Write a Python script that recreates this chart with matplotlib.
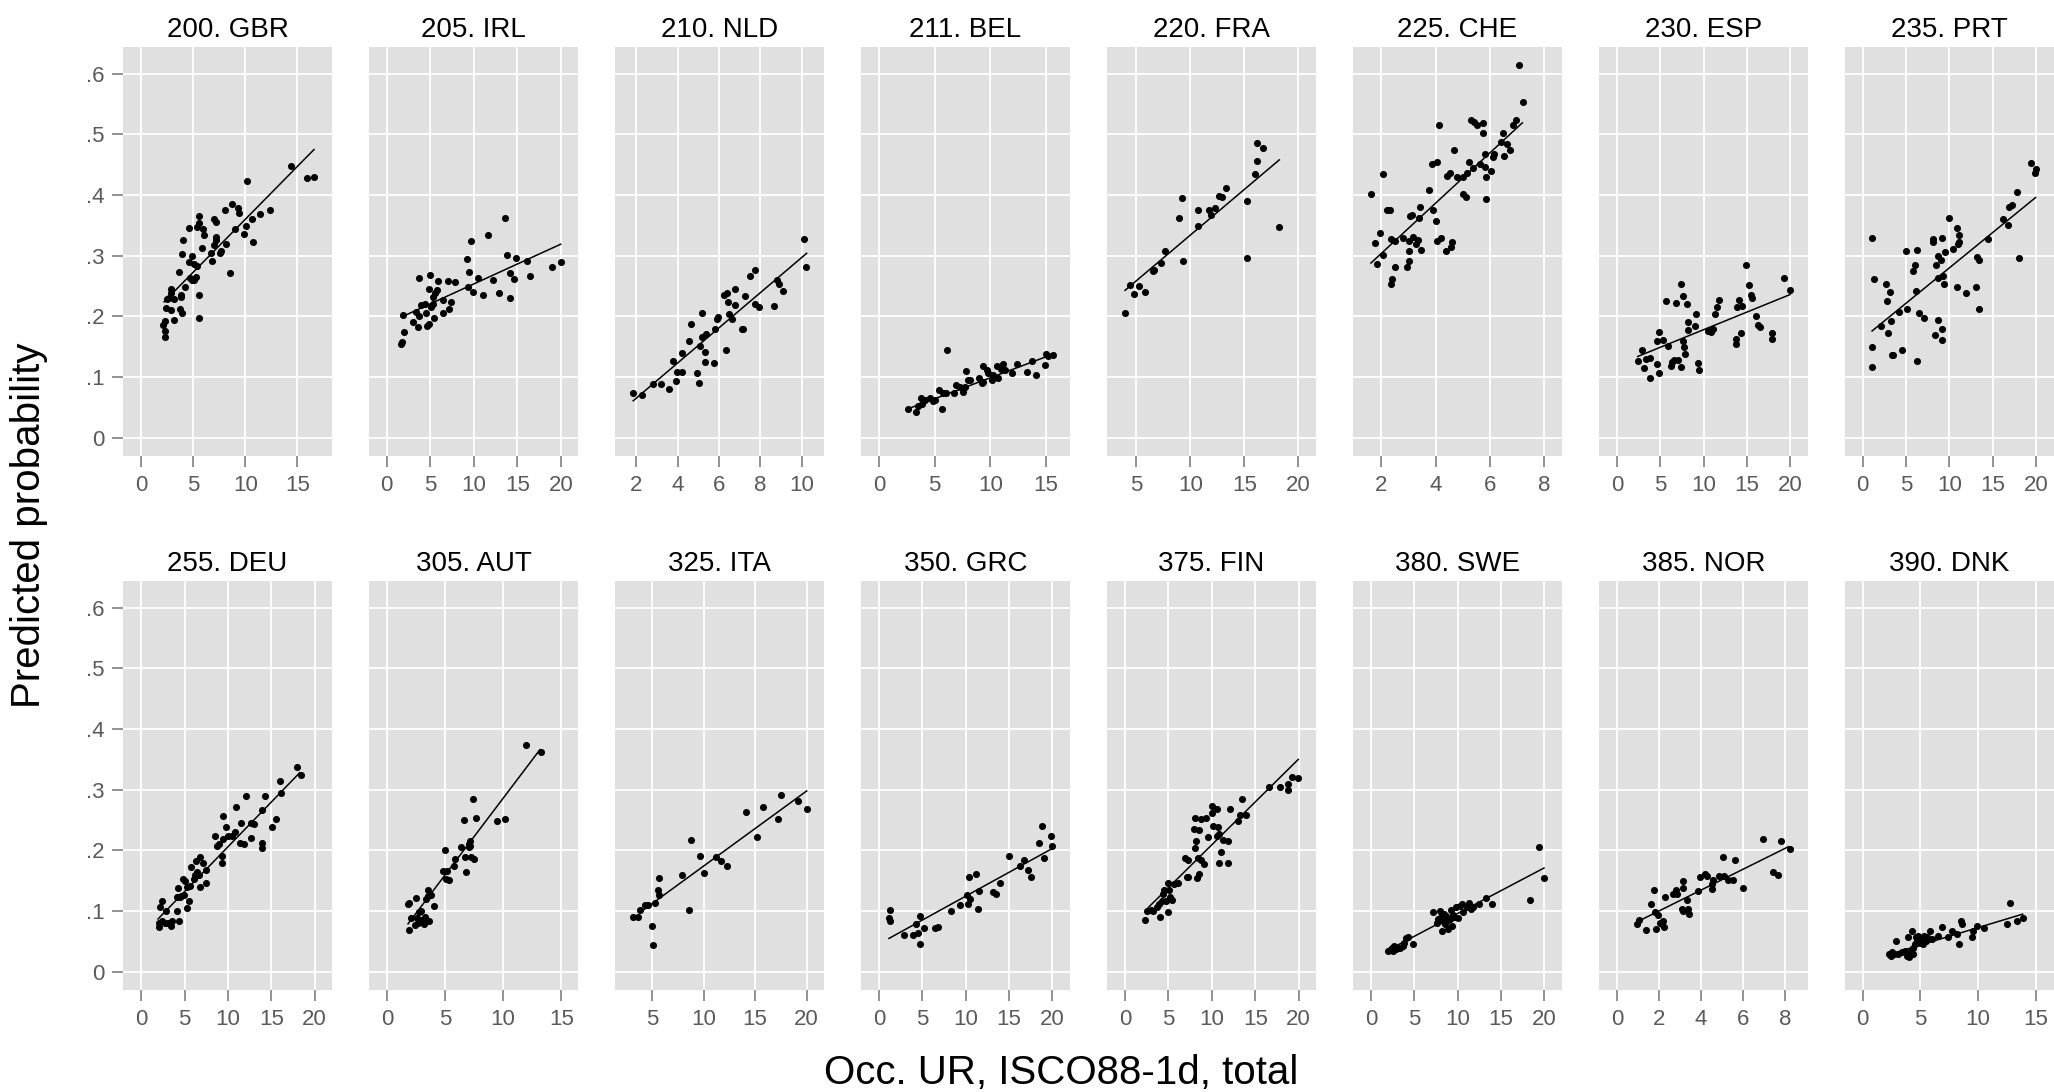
import matplotlib.pyplot as plt

plt.rcParams['font.family'] = ['Liberation Sans', 'DejaVu Sans']

# predicted probability vs occupational unemployment rate, one list of (x, y) per country
gbr = [(2.08, .186), (2.28, .192), (2.28, .176), (2.28, .166), (2.34, .214), (2.5, .229), (2.66, .23),
       (2.85, .245), (2.85, .238), (2.9, .21), (3.1, .194), (3.17, .228), (3.6, .274), (3.69, .212),
       (3.8, .236), (3.85, .232), (3.94, .206), (3.97, .326), (3.9, .303), (4.23, .249), (4.58, .345),
       (4.58, .29), (4.65, .264), (4.84, .3), (4.87, .26), (5.06, .26), (5.1, .287), (5.26, .265),
       (5.35, .283), (5.54, .235), (5.54, .198), (5.5, .365), (5.58, .354), (5.38, .348), (5.8, .312),
       (5.96, .344), (6.0, .334), (6.83, .292), (6.73, .305), (6.96, .36), (7.15, .355), (7.15, .331),
       (6.99, .318), (7.2, .326), (7.6, .304), (7.69, .308), (8.04, .375), (8.17, .319), (8.5, .271),
       (8.75, .386), (8.97, .344), (9.3, .378), (9.36, .371), (9.84, .336), (10.1, .349), (10.13, .424),
       (10.67, .36), (10.74, .322), (11.4, .368), (12.4, .375), (14.36, .448), (15.9, .428), (16.63, .429)]
irl = [(1.69, .154), (1.76, .158), (1.95, .174), (1.88, .202), (3.03, .191), (3.41, .208), (3.68, .201),
       (3.6, .183), (3.72, .263), (3.98, .219), (4.37, .221), (4.48, .206), (4.67, .184), (4.87, .187),
       (4.83, .246), (5.02, .269), (5.13, .216), (5.33, .232), (5.44, .197), (5.52, .238), (5.79, .243),
       (5.9, .259), (5.33, .221), (6.47, .227), (6.47, .205), (7.05, .259), (7.16, .213), (7.43, .224),
       (7.85, .256), (9.16, .295), (9.35, .248), (9.43, .273), (9.73, .324), (9.85, .24), (10.42, .264),
       (11.07, .235), (11.65, .334), (12.15, .26), (12.87, .239), (13.56, .362), (13.75, .302),
       (14.14, .23), (14.14, .271), (14.6, .261), (14.83, .296), (16.05, .291), (16.44, .266),
       (18.97, .281), (19.96, .29)]
nld = [(1.82, .074), (2.27, .070), (2.82, .088), (3.19, .088), (3.58, .081), (3.76, .126), (3.9, .093),
       (3.98, .108), (4.19, .108), (4.19, .139), (4.56, .16), (4.63, .188), (4.94, .106), (5.02, .091),
       (5.08, .152), (5.16, .205), (5.19, .166), (5.34, .141), (5.34, .125), (5.39, .171), (5.74, .123),
       (5.79, .18), (5.89, .196), (5.95, .199), (6.23, .235), (6.39, .238), (6.44, .223), (6.34, .145),
       (6.5, .204), (6.63, .196), (6.76, .219), (6.77, .245), (7.1, .18), (7.15, .179), (7.26, .233),
       (7.5, .266), (7.73, .277), (7.73, .221), (7.95, .215), (8.68, .217), (8.79, .26), (8.9, .254),
       (9.08, .242), (10.11, .327), (10.23, .281)]
bel = [(2.63, .047), (3.32, .042), (3.53, .053), (3.77, .066), (3.89, .055), (4.13, .062), (4.58, .066),
       (4.82, .06), (5.03, .062), (5.39, .079), (5.69, .047), (5.78, .073), (6.02, .074), (6.08, .145),
       (6.77, .074), (6.92, .087), (7.28, .084), (7.51, .076), (7.72, .084), (7.78, .11), (7.96, .095),
       (8.17, .096), (9.01, .098), (9.22, .091), (9.37, .092), (9.37, .119), (9.67, .112), (9.82, .106),
       (10.12, .095), (10.27, .103), (10.57, .119), (10.72, .099), (10.93, .113), (11.17, .121),
       (11.32, .112), (11.92, .107), (12.37, .121), (13.32, .108), (13.71, .127), (14.1, .104),
       (14.91, .12), (14.97, .138), (15.21, .134), (15.6, .136)]
fra = [(3.95, .206), (4.41, .252), (4.81, .237), (5.22, .25), (5.8, .241), (6.57, .275), (6.64, .276),
       (7.25, .288), (7.69, .308), (8.98, .363), (9.2, .395), (9.35, .291), (10.71, .349), (10.74, .375),
       (11.76, .376), (11.91, .367), (12.31, .379), (12.69, .399), (12.96, .397), (13.3, .411),
       (15.28, .391), (15.28, .297), (15.96, .434), (16.14, .456), (16.14, .486), (16.73, .477),
       (18.24, .348)]
che = [(1.61, .402), (1.78, .321), (1.83, .286), (1.96, .337), (2.06, .302), (2.07, .434), (2.2, .376),
       (2.31, .376), (2.37, .327), (2.38, .262), (2.37, .253), (2.49, .325), (2.52, .282), (2.8, .33),
       (2.93, .282), (3.02, .324), (3.03, .291), (3.03, .308), (3.06, .365), (3.12, .367), (3.18, .331),
       (3.28, .319), (3.36, .326), (3.39, .363), (3.42, .38), (3.45, .31), (3.77, .409), (3.89, .376),
       (3.85, .452), (4.01, .357), (4.04, .455), (4.06, .325), (4.13, .516), (4.18, .329), (4.38, .308),
       (4.42, .432), (4.53, .436), (4.55, .314), (4.59, .322), (4.67, .474), (4.77, .43), (4.99, .43),
       (5.01, .402), (5.1, .396), (5.17, .437), (5.23, .454), (5.3, .523), (5.39, .444), (5.41, .521),
       (5.53, .516), (5.63, .452), (5.73, .518), (5.75, .503), (5.82, .468), (5.83, .447), (5.86, .43),
       (5.86, .393), (6.02, .44), (6.1, .462), (6.15, .467), (6.39, .488), (6.49, .503), (6.52, .464),
       (6.61, .484), (6.74, .474), (6.86, .515), (6.96, .523), (7.07, .614), (7.2, .554)]
esp = [(2.47, .127), (2.85, .145), (3.12, .115), (3.35, .13), (3.82, .132), (3.78, .099), (4.66, .121),
       (4.66, .159), (4.86, .107), (4.86, .175), (5.28, .161), (5.63, .225), (5.93, .151), (6.2, .118),
       (6.36, .125), (6.59, .128), (6.82, .222), (7.09, .129), (7.36, .116), (7.44, .253), (7.63, .233),
       (7.67, .16), (7.75, .15), (7.86, .138), (8.05, .22), (8.17, .177), (8.25, .19), (9.06, .184),
       (9.17, .204), (9.33, .124), (9.48, .112), (10.48, .176), (10.87, .175), (11.06, .179),
       (11.29, .204), (11.6, .215), (11.79, .227), (13.72, .163), (13.76, .154), (13.91, .215),
       (14.14, .227), (14.3, .173), (14.49, .218), (14.95, .284), (15.26, .252), (15.49, .236),
       (15.61, .231), (16.03, .2), (16.34, .186), (16.53, .182), (17.96, .172), (17.96, .162),
       (19.35, .264), (20.0, .243)]
prt = [(1.12, .33), (1.08, .15), (1.12, .116), (1.35, .262), (2.12, .185), (2.73, .254), (2.85, .226),
       (2.96, .172), (3.15, .24), (3.27, .192), (3.35, .136), (3.54, .136), (4.19, .208), (4.58, .145),
       (4.96, .308), (5.15, .213), (5.85, .275), (6.04, .284), (6.15, .242), (6.27, .31), (6.23, .127),
       (6.5, .205), (7.08, .197), (8.08, .327), (8.15, .322), (8.38, .17), (8.46, .284), (8.73, .299),
       (8.73, .194), (8.73, .264), (9.0, .293), (9.12, .33), (9.12, .161), (9.12, .18), (9.31, .266),
       (9.42, .254), (9.5, .307), (9.96, .362), (10.38, .311), (10.85, .346), (10.85, .249),
       (10.96, .319), (11.12, .334), (11.15, .322), (11.92, .238), (13.08, .249), (13.23, .298),
       (13.38, .293), (13.46, .213), (14.42, .327), (16.15, .361), (16.73, .35), (16.92, .381),
       (17.27, .384), (17.85, .405), (18.04, .297), (19.42, .453), (19.88, .437), (19.96, .443)]
deu = [(2.04, .074), (2.04, .081), (2.12, .106), (2.35, .084), (2.42, .116), (2.73, .081), (2.81, .101),
       (3.08, .081), (3.46, .076), (3.58, .083), (4.15, .101), (4.12, .123), (4.19, .138), (4.31, .083),
       (4.42, .123), (4.62, .125), (4.81, .153), (4.88, .127), (5.0, .149), (5.27, .139), (5.31, .105),
       (5.5, .116), (5.58, .141), (5.69, .172), (6.08, .153), (6.19, .16), (6.35, .183), (6.46, .164),
       (6.65, .16), (6.73, .189), (6.81, .14), (7.12, .18), (7.42, .147), (7.5, .167), (8.5, .224),
       (8.73, .208), (8.96, .21), (9.27, .19), (9.35, .18), (9.38, .257), (9.42, .219), (9.73, .239),
       (10.04, .224), (10.5, .224), (10.77, .23), (10.96, .271), (11.35, .213), (11.5, .245),
       (11.81, .211), (12.12, .289), (12.62, .245), (12.62, .22), (13.0, .244), (13.92, .266),
       (13.96, .212), (13.92, .204), (14.27, .289), (15.12, .239), (15.5, .252), (16.08, .294),
       (16.0, .314), (17.96, .337), (18.38, .325)]
aut = [(1.84, .112), (1.93, .114), (1.87, .069), (2.1, .089), (2.39, .077), (2.53, .121), (2.56, .089),
       (2.67, .08), (2.76, .098), (2.87, .085), (2.93, .101), (3.05, .083), (3.16, .079), (3.25, .09),
       (3.39, .12), (3.53, .125), (3.56, .134), (3.62, .084), (3.82, .127), (4.05, .108), (4.83, .166),
       (5.03, .201), (5.11, .153), (5.2, .166), (5.32, .152), (5.75, .174), (5.86, .186), (6.38, .205),
       (6.61, .25), (6.75, .189), (6.84, .164), (7.04, .206), (7.07, .211), (7.18, .216), (7.18, .208),
       (7.27, .189), (7.47, .186), (7.44, .285), (7.64, .253), (9.51, .249), (10.14, .251),
       (11.95, .374), (13.22, .363)]
ita = [(3.13, .091), (3.61, .09), (3.84, .102), (4.32, .11), (4.64, .11), (5.03, .076), (5.13, .044),
       (5.32, .114), (5.61, .135), (5.71, .154), (5.71, .127), (7.91, .16), (8.59, .102), (8.78, .217),
       (9.69, .191), (10.04, .163), (11.17, .189), (11.66, .182), (12.24, .175), (14.08, .263),
       (15.15, .222), (15.8, .271), (17.25, .251), (17.48, .292), (19.13, .282), (20.0, .268)]
grc = [(1.15, .088), (1.27, .102), (1.31, .083), (2.85, .06), (3.88, .06), (4.23, .078), (4.46, .064),
       (4.73, .092), (4.77, .046), (5.23, .072), (6.46, .072), (6.85, .074), (8.27, .101), (9.38, .11),
       (10.12, .127), (10.23, .112), (10.38, .156), (10.5, .12), (11.19, .161), (11.46, .104),
       (11.58, .133), (13.12, .131), (13.5, .128), (13.96, .146), (14.96, .191), (16.27, .175),
       (16.77, .184), (17.23, .168), (17.5, .157), (18.46, .212), (18.77, .241), (19.04, .187),
       (19.81, .224), (20.0, .207)]
fin = [(2.34, .086), (2.5, .1), (2.99, .102), (3.26, .101), (3.72, .107), (3.92, .112), (4.03, .091),
       (4.22, .116), (4.41, .128), (4.53, .134), (4.72, .117), (4.91, .099), (5.11, .134), (5.18, .123),
       (5.37, .118), (4.91, .146), (5.68, .145), (6.14, .147), (7.1, .156), (7.29, .156), (6.95, .187),
       (7.29, .184), (8.25, .154), (8.52, .161), (8.44, .187), (8.71, .185), (9.1, .177), (8.06, .204),
       (8.18, .216), (7.98, .235), (8.56, .234), (8.06, .253), (8.71, .252), (9.33, .253), (9.6, .222),
       (10.02, .274), (10.02, .262), (10.17, .24), (10.63, .268), (10.75, .238), (10.86, .227),
       (10.63, .224), (11.09, .197), (10.86, .18), (11.25, .217), (11.82, .215), (11.82, .179),
       (12.09, .268), (13.01, .249), (13.24, .259), (13.44, .285), (13.93, .259), (16.58, .304),
       (17.89, .304), (18.81, .31), (18.73, .299), (19.19, .321), (19.96, .32)]
swe = [(1.92, .034), (2.19, .036), (2.38, .04), (2.58, .034), (2.69, .043), (2.88, .037), (3.15, .04),
       (3.35, .039), (3.65, .043), (3.81, .047), (4.04, .055), (4.31, .057), (4.81, .046), (7.12, .098),
       (7.58, .081), (7.77, .087), (7.96, .101), (8.04, .09), (8.15, .068), (8.27, .084), (8.42, .096),
       (8.54, .079), (8.65, .092), (8.73, .084), (8.92, .07), (9.12, .087), (9.19, .102), (9.31, .076),
       (9.42, .094), (9.58, .09), (9.81, .107), (10.0, .089), (10.27, .109), (10.46, .112),
       (10.65, .098), (11.04, .106), (11.35, .114), (11.5, .103), (11.81, .106), (12.5, .112),
       (13.23, .122), (14.0, .111), (18.35, .119), (19.42, .206), (19.96, .155)]
nor = [(.94, .078), (1.05, .086), (1.38, .069), (1.63, .112), (1.78, .135), (1.81, .098), (1.84, .07),
       (1.97, .094), (2.05, .081), (2.13, .079), (2.17, .083), (2.25, .073), (2.3, .124), (2.68, .128),
       (2.81, .134), (2.87, .128), (3.08, .103), (3.13, .138), (3.16, .149), (3.16, .101), (3.32, .118),
       (3.4, .103), (3.44, .095), (3.87, .133), (3.95, .157), (4.19, .161), (4.27, .158), (4.51, .136),
       (4.51, .145), (4.59, .151), (4.87, .158), (5.06, .189), (5.1, .158), (5.3, .151), (5.51, .151),
       (5.62, .184), (6.02, .138), (6.94, .219), (7.44, .165), (7.68, .16), (7.81, .215), (8.24, .202)]
dnk = [(2.31, .029), (2.43, .026), (2.54, .032), (2.72, .03), (2.89, .051), (3.09, .029), (3.38, .032),
       (3.67, .035), (3.82, .026), (3.96, .03), (3.96, .058), (4.05, .025), (4.16, .035), (4.25, .068),
       (4.34, .029), (4.39, .04), (4.54, .046), (4.62, .057), (4.74, .051), (4.83, .059), (4.97, .048),
       (5.12, .056), (5.2, .046), (5.32, .059), (5.49, .051), (5.61, .058), (5.84, .067), (5.98, .054),
       (6.56, .059), (6.91, .073), (7.37, .057), (7.72, .068), (8.15, .062), (8.38, .046), (8.5, .084),
       (8.58, .078), (9.45, .058), (9.54, .068), (9.88, .075), (10.55, .072), (12.49, .078),
       (12.77, .113), (13.35, .083), (13.87, .089)]

countries = ['200. GBR', '205. IRL', '210. NLD', '211. BEL', '220. FRA', '225. CHE', '230. ESP', '235. PRT',
             '255. DEU', '305. AUT', '325. ITA', '350. GRC', '375. FIN', '380. SWE', '385. NOR', '390. DNK']
points = [gbr, irl, nld, bel, fra, che, esp, prt, deu, aut, ita, grc, fin, swe, nor, dnk]

# fitted line ends per country
line_x0 = [2.18, 1.69, 1.85, 2.78, 3.95, 1.62, 2.39, 1.08, 1.92, 1.81, 3.77, 1.15, 2.69, 2.0, 1.17, 2.37]
line_y0 = [.224, .199, .061, .049, .243, .288, .134, .176, .087, .079, .097, .055, .106, .036, .086, .029]
line_x1 = [16.6, 19.96, 10.24, 15.8, 18.24, 7.19, 20.0, 19.96, 18.27, 13.16, 20.0, 20.1, 19.96, 19.96, 8.16, 13.87]
line_y1 = [.475, .319, .304, .139, .458, .519, .236, .396, .328, .366, .298, .204, .35, .171, .206, .095]

x_ticks = [[0, 5, 10, 15], [0, 5, 10, 15, 20], [2, 4, 6, 8, 10], [0, 5, 10, 15],
           [5, 10, 15, 20], [2, 4, 6, 8], [0, 5, 10, 15, 20], [0, 5, 10, 15, 20],
           [0, 5, 10, 15, 20], [0, 5, 10, 15], [5, 10, 15, 20], [0, 5, 10, 15, 20],
           [0, 5, 10, 15, 20], [0, 5, 10, 15, 20], [0, 2, 4, 6, 8], [0, 5, 10, 15]]
y_ticks = [0, .1, .2, .3, .4, .5, .6]
y_labels = ['0', '.1', '.2', '.3', '.4', '.5', '.6']

x_limits = [(-1.76, 18.33), (-2.03, 21.95), (0.97, 11.08), (-1.62, 17.16),
            (2.28, 21.64), (0.96, 8.65), (-2.08, 22.08), (-2.04, 22.08),
            (-2.12, 22.0), (-1.55, 16.44), (1.41, 21.68), (-2.08, 22.04),
            (-2.07, 22.0), (-2.08, 22.04), (-0.86, 9.1), (-1.53, 16.59)]

W, H = 2054, 1092
fig = plt.figure(figsize=(W / 100, H / 100), dpi=100)

for i, name in enumerate(countries):
    r, c = divmod(i, 8)
    left = 123 + 246 * c
    top = 47 if r == 0 else 581
    ax = fig.add_axes([left / W, 1 - (top + 409) / H, 209 / W, 409 / H])
    ax.set_facecolor('#e0e0e0')
    for s in ax.spines.values():
        s.set_visible(False)
    ax.grid(True, color='white', linewidth=1.3)
    ax.set_axisbelow(True)

    xs = [p[0] for p in points[i]]
    ys = [p[1] for p in points[i]]
    ax.scatter(xs, ys, s=26, color='black', linewidths=0, zorder=3)
    ax.plot([line_x0[i], line_x1[i]], [line_y0[i], line_y1[i]], color='black', lw=1.1, zorder=4)

    ax.set_xlim(*x_limits[i])
    ax.set_ylim(-0.03, 0.644)
    ax.set_xticks(x_ticks[i])
    ax.set_yticks(y_ticks)
    ax.tick_params(axis='x', length=8, width=1.2, color='#7f7f7f', pad=6,
                   labelsize=16, labelcolor='#5a5a5a')
    if c == 0:
        ax.set_yticklabels(y_labels)
        ax.tick_params(axis='y', length=8, width=1.2, color='#7f7f7f', pad=5,
                       labelsize=16, labelcolor='#5a5a5a')
    else:
        ax.tick_params(axis='y', length=0, labelleft=False)
    ax.set_title(name, fontsize=20, pad=7)

fig.text(1061 / W, 1 - 1073 / H, 'Occ. UR, ISCO88-1d, total', fontsize=29, ha='center', va='center')
fig.text(29 / W, 1 - 525 / H, 'Predicted probability', fontsize=29, rotation=90, ha='center', va='center')

fig.savefig('out.png', dpi=100)
